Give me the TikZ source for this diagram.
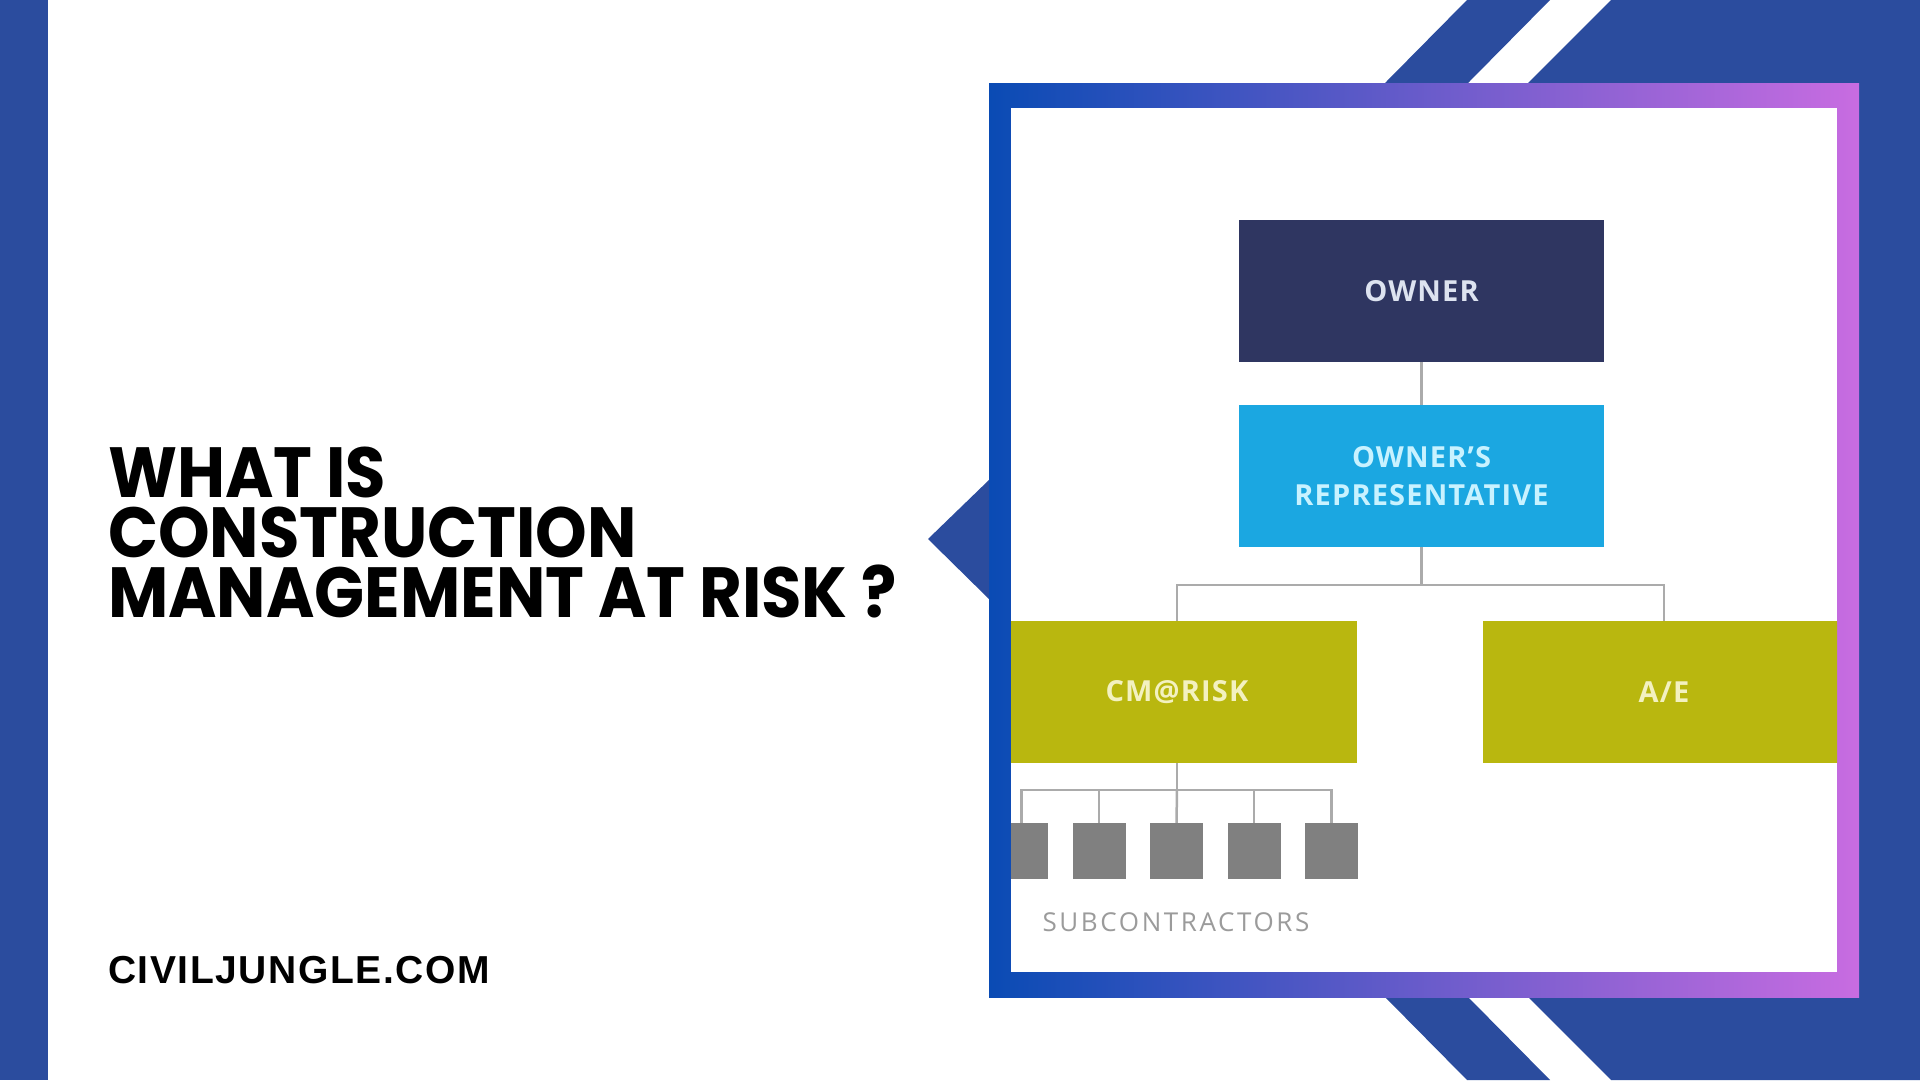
\documentclass[tikz,border=0pt]{standalone}
\usepackage{fontspec}
\newfontfamily\titlefont[FakeStretch=0.925]{Poppins}
\newfontfamily\chartfont[LetterSpace=4]{Open Sans}
\newfontfamily\subfont[LetterSpace=10]{Open Sans}
\newfontfamily\sitefont[LetterSpace=4]{Liberation Sans}
\definecolor{bgblue}{RGB}{43,76,158}
\definecolor{frameL}{RGB}{10,75,180}
\definecolor{frameR}{RGB}{200,108,225}
\definecolor{ownerc}{RGB}{47,54,97}
\definecolor{repc}{RGB}{27,167,225}
\definecolor{olive}{RGB}{185,183,15}
\definecolor{subgray}{RGB}{128,128,128}
\definecolor{linegray}{RGB}{171,171,171}
\definecolor{subtext}{RGB}{155,155,155}
\tikzset{
  box/.style={inner sep=0pt, minimum width=365pt, minimum height=142pt, align=center,
    font=\chartfont\bfseries\fontsize{29}{38}\selectfont},
  sq/.style={fill=subgray, inner sep=0pt, minimum width=53pt, minimum height=56pt},
  conn/.style={draw=linegray, line width=2.5pt},
  titletext/.style={anchor=base west, inner sep=0pt, align=left,
    font=\titlefont\bfseries\fontsize{71}{60}\selectfont}
}
\begin{document}
\begin{tikzpicture}[x=1pt,y=-1pt]
\useasboundingbox (0,0) rectangle (1920,1080);
\fill[white] (0,0) rectangle (1920,1080);
% left bar
\fill[bgblue] (0,0) rectangle (48,1080);
% right decorations
\fill[bgblue] (1385,83) -- (1467,0) -- (1550,0) -- (1468,83) -- cycle;
\fill[bgblue] (1385,997) -- (1467,1080) -- (1550,1080) -- (1468,997) -- cycle;
\fill[bgblue] (1528,83) -- (1611,0) -- (1920,0) -- (1920,1080) -- (1611,1080) -- (1528,997) -- cycle;
% triangle
\fill[bgblue] (928,539) -- (990,479) -- (990,600) -- cycle;
% frame
\fill[left color=frameL, right color=frameR] (989,83) rectangle (1859,997);
\fill[white] (1011,108) rectangle (1837,972);
% chart
\begin{scope}
\clip (1011,108) rectangle (1837,972);
\node[box, fill=ownerc, text={rgb,255:red,221;green,227;blue,240}] (owner) at (1421.5,291) {OWNER};
\node[box, fill=repc, text={rgb,255:red,200;green,242;blue,255}] (rep) at (1421.5,476) {OWNER’S\\REPRESENTATIVE};
\node[box, fill=olive, minimum width=360pt, text={rgb,255:red,243;green,241;blue,192}] (cm) at (1177,692) {CM@RISK};
\node[box, fill=olive, minimum width=362pt, text={rgb,255:red,243;green,241;blue,192}] (ae) at (1664,692) {A/E};
\coordinate (j1) at (1421.5,585);
\coordinate (j2) at (1177,790);
\node[sq] (s1) at (1021.5,851) {};
\node[sq] (s2) at (1099,851) {};
\node[sq] (s3) at (1176.5,851) {};
\node[sq] (s4) at (1254,851) {};
\node[sq] (s5) at (1331.5,851) {};
\draw[conn] (owner.south) -- (rep.north);
\draw[conn] (rep.south) -- (j1);
\draw[conn] (j1) -| (cm.north);
\draw[conn] (j1) -| (ae.north);
\draw[conn] (cm.south) -- (j2);
\draw[conn] (j2) -| (s1.north);
\draw[conn] (j2) -| (s5.north);
\draw[conn] (s2.north) -- (s2.north |- j2);
\draw[conn] (s3.north) -- (j2);
\draw[conn] (s4.north) -- (s4.north |- j2);
\node[inner sep=0pt, text=subtext, font=\subfont\fontsize{26}{30}\selectfont] (subs) at (1176,922) {SUBCONTRACTORS};
\end{scope}
% title
\node[titletext] (title) at (108,617) {WHAT IS\\CONSTRUCTION\\MANAGEMENT AT RISK ?};
\node[anchor=base west, inner sep=0pt, font=\sitefont\bfseries\fontsize{39}{39}\selectfont] (site) at (108,983) {CIVILJUNGLE.COM};
\end{tikzpicture}
\end{document}
